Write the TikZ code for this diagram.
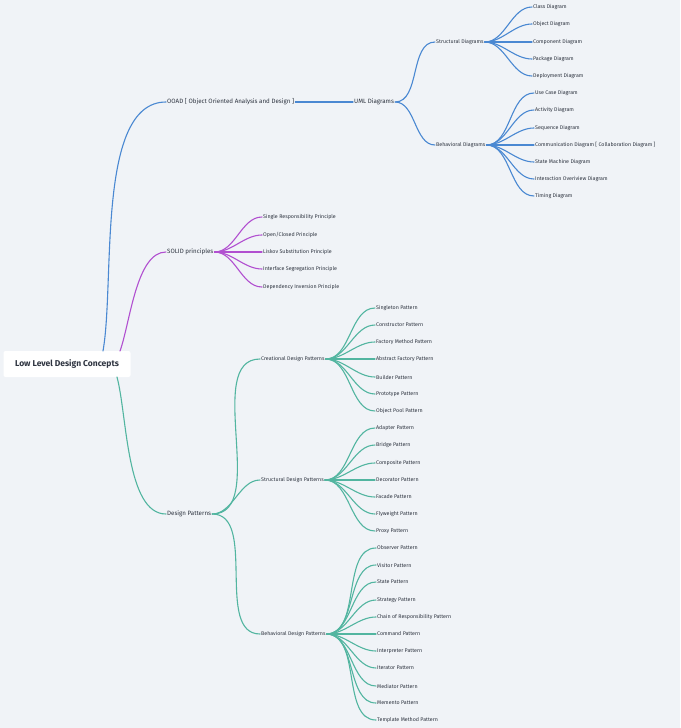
\documentclass[tikz,border=0pt]{standalone}
\usepackage{fontspec}
\setmainfont{Fira Sans}
\definecolor{bg}{HTML}{F0F3F7}
\definecolor{cb}{HTML}{4A88D2}
\definecolor{cp}{HTML}{B14FD0}
\definecolor{ct}{HTML}{52B5A0}
\definecolor{tx}{HTML}{2E3440}
\begin{document}
\begin{tikzpicture}[x=1pt,y=-1pt,
  lf/.style={anchor=west,inner sep=1pt,font=\fontsize{5.3}{6}\selectfont,text=tx},
  mid/.style={anchor=west,inner sep=1pt,font=\fontsize{6.2}{7}\selectfont,text=tx},
  ln/.style={line width=1.1pt,line cap=round},
  e/.style={ln,out=0,in=180,looseness=0.9}]
\fill[bg] (0,0) rectangle (680,728);
\useasboundingbox (0,0) rectangle (680,728);
\node[fill=white,rounded corners=2pt,minimum width=127,minimum height=26,font=\fontsize{8.5}{10}\selectfont\bfseries,text=tx] (root) at (67,364) {Low Level Design Concepts};
\coordinate (r1) at (103,351);
\coordinate (r2) at (120,351);
\coordinate (r3) at (117,377);
% level 1
\node[mid] (ooad) at (166,102) {OOAD [ Object Oriented Analysis and Design ]};
\node[mid] (uml) at (353,102) {UML Diagrams};
\node[lf] (sd) at (435,42) {Structural Diagrams};
\node[lf] (bd) at (435,145) {Behavioral Diagrams};
\node[lf] (s1) at (532,7) {Class Diagram};
\node[lf] (s2) at (532,24) {Object Diagram};
\node[lf] (s3) at (532,42) {Component Diagram};
\node[lf] (s4) at (532,59) {Package Diagram};
\node[lf] (s5) at (532,76) {Deployment Diagram};
\node[lf] (b1) at (534,93) {Use Case Diagram};
\node[lf] (b2) at (534,110) {Activity Diagram};
\node[lf] (b3) at (534,128) {Sequence Diagram};
\node[lf] (b4) at (534,145) {Communication Diagram [ Collaboration Diagram ]};
\node[lf] (b5) at (534,162) {State Machine Diagram};
\node[lf] (b6) at (534,179) {Interaction Overiview Diagram};
\node[lf] (b7) at (534,196) {Timing Diagram};
\node[mid] (solid) at (166,252) {SOLID principles};
\node[lf] (p1) at (262,217) {Single Responsibility Principle};
\node[lf] (p2) at (262,235) {Open/Closed Principle};
\node[lf] (p3) at (262,252) {Liskov Substitution Principle};
\node[lf] (p4) at (262,269) {Interface Segregation Principle};
\node[lf] (p5) at (262,287) {Dependency Inversion Principle};
\node[mid] (dp) at (166,514) {Design Patterns};
\node[lf] (cr) at (260,359) {Creational Design Patterns};
\node[lf] (st) at (260,480) {Structural Design Patterns};
\node[lf] (be) at (260,634) {Behavioral Design Patterns};
\node[lf] (c1) at (375,308) {Singleton Pattern};
\node[lf] (c2) at (375,325) {Constructor Pattern};
\node[lf] (c3) at (375,342) {Factory Method Pattern};
\node[lf] (c4) at (375,359) {Abstract Factory Pattern};
\node[lf] (c5) at (375,377) {Builder Pattern};
\node[lf] (c6) at (375,394) {Prototype Pattern};
\node[lf] (c7) at (375,411) {Object Pool Pattern};
\node[lf] (t1) at (375,428) {Adapter Pattern};
\node[lf] (t2) at (375,445) {Bridge Pattern};
\node[lf] (t3) at (375,463) {Composite Pattern};
\node[lf] (t4) at (375,480) {Decorator Pattern};
\node[lf] (t5) at (375,497) {Facade Pattern};
\node[lf] (t6) at (375,514) {Flyweight Pattern};
\node[lf] (t7) at (375,531) {Proxy Pattern};
\node[lf] (h1) at (376,548) {Observer Pattern};
\node[lf] (h2) at (376,565) {Visitor Pattern};
\node[lf] (h3) at (376,582) {State Pattern};
\node[lf] (h4) at (376,600) {Strategy Pattern};
\node[lf] (h5) at (376,617) {Chain of Responsibility Pattern};
\node[lf] (h6) at (376,634) {Command Pattern};
\node[lf] (h7) at (376,651) {Interpreter Pattern};
\node[lf] (h8) at (376,668) {Iterator Pattern};
\node[lf] (h9) at (376,686) {Mediator Pattern};
\node[lf] (h10) at (376,703) {Memento Pattern};
\node[lf] (h11) at (376,720) {Template Method Pattern};
% connectors
\draw[cb,ln] (r1) to[out=80,in=180,looseness=0.7] (ooad.west);
\draw[cp,ln] (r2) to[out=70,in=180,looseness=0.7] (solid.west);
\draw[ct,ln] (r3) to[out=-75,in=180,looseness=0.7] (dp.west);
\draw[cb,ln] (ooad.east) -- (uml.west);
\foreach \c in {sd,bd} \draw[cb,e] (uml.east) to (\c.west);
\foreach \c in {s1,s2,s3,s4,s5} \draw[cb,e] (sd.east) to (\c.west);
\foreach \c in {b1,b2,b3,b4,b5,b6,b7} \draw[cb,e] (bd.east) to (\c.west);
\foreach \c in {p1,p2,p3,p4,p5} \draw[cp,e] (solid.east) to (\c.west);
\foreach \c in {cr,st,be} \draw[ct,e] (dp.east) to (\c.west);
\foreach \c in {c1,c2,c3,c4,c5,c6,c7} \draw[ct,e] (cr.east) to (\c.west);
\foreach \c in {t1,t2,t3,t4,t5,t6,t7} \draw[ct,e] (st.east) to (\c.west);
\foreach \c in {h1,h2,h3,h4,h5,h6,h7,h8,h9,h10,h11} \draw[ct,e] (be.east) to (\c.west);
\end{tikzpicture}
\end{document}
